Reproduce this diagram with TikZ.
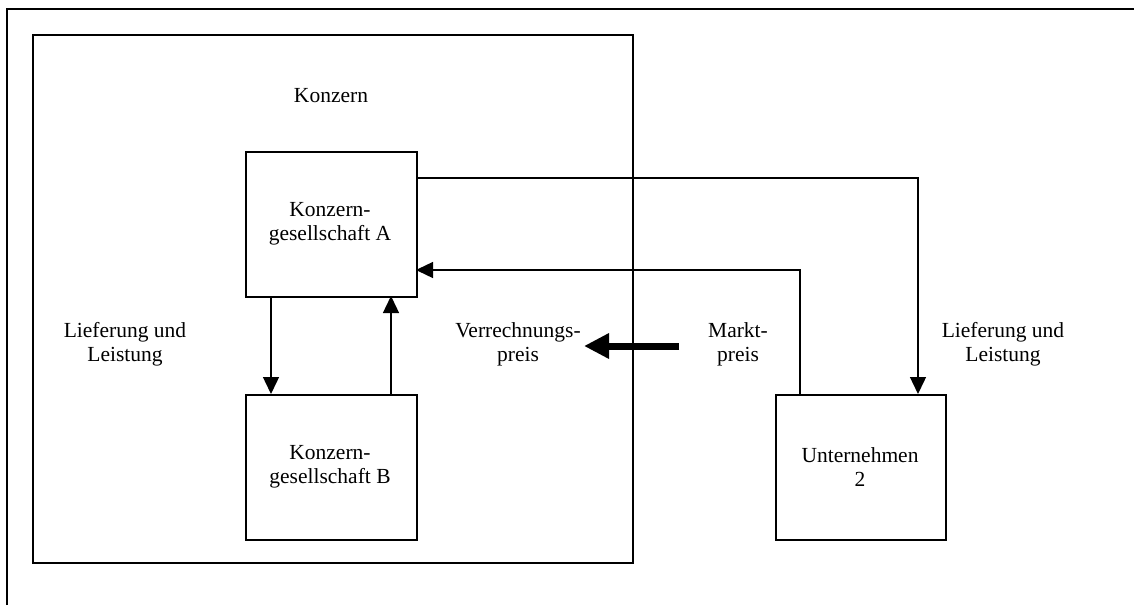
\documentclass[tikz,border=0pt]{standalone}
\usepackage{fontspec}
\setmainfont{Liberation Serif}
\usetikzlibrary{arrows.meta}
\begin{document}
\begin{tikzpicture}[x=1pt,y=-1pt,
  box/.style={draw,line width=1.5pt,minimum width=171pt,minimum height=145pt,anchor=north west,inner sep=0pt},
  lbl/.style={align=center,font=\fontsize{21.5}{24}\selectfont,inner sep=0pt},
  conn/.style={line width=1.4pt,-{Triangle[length=17pt,width=16pt]}}]
\useasboundingbox (0,0) rectangle (1134,605);
\draw[line width=1.3pt] (7,605) -- (7,9) -- (1134,9);
\node[draw,line width=2pt,minimum width=600pt,minimum height=528pt,anchor=north west,inner sep=0pt] (konzern) at (32,34) {};
\node[box] (A) at (245,151) {};
\node[box] (B) at (245,394) {};
\node[box,minimum width=170pt] (U) at (775,394) {};
\node[lbl] at (331,96) {Konzern};
\node[lbl] at (330,224) {Konzern-\\gesellschaft A};
\node[lbl] at (330,467) {Konzern-\\gesellschaft B};
\node[lbl] at (860,467) {Unternehmen\\2};
\node[lbl] at (125,344) {Lieferung und\\Leistung};
\node[lbl] at (1003,344) {Lieferung und\\Leistung};
\node[lbl] at (518,344) {Verrechnungs-\\preis};
\node[lbl] (mp) at (738,344) {Markt-\\preis};
\coordinate (a1) at (271,296);
\coordinate (b1) at (271,394);
\coordinate (b2) at (391,394);
\coordinate (a2) at (391,296);
\draw[conn] (a1) -- (b1);
\draw[conn] (b2) -- (a2);
\coordinate (ar) at (416,178);
\coordinate (ut) at (918,394);
\draw[conn] (ar) -| (ut);
\coordinate (us) at (800,394);
\coordinate (al) at (416,270);
\draw[conn] (us) |- (al);
\coordinate (t1) at (679,346);
\coordinate (t2) at (584,346);
\draw[line width=7pt,-{Triangle[length=25pt,width=24pt]}] (t1) -- (t2);
\end{tikzpicture}
\end{document}
